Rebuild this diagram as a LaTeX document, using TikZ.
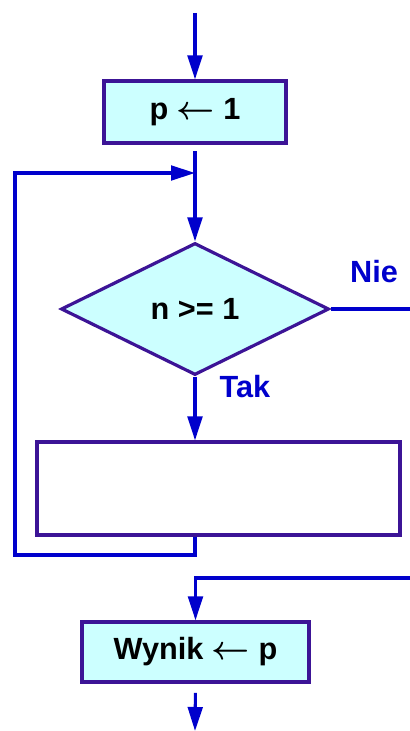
\documentclass[tikz,border=0pt]{standalone}
\usepackage{fontspec}
\setmainfont{Liberation Sans}
\usepackage{amsmath}
\usetikzlibrary{shapes.geometric,arrows.meta}

\definecolor{flowblue}{RGB}{0,0,204}
\definecolor{edgepurple}{RGB}{60,20,150}
\definecolor{boxfill}{RGB}{204,255,255}

\newcommand{\assign}{\ $\boldsymbol{\leftarrow}$\ }

\tikzset{
  block/.style={draw=edgepurple, line width=2.4pt, fill=boxfill, inner sep=0pt,
    font=\fontsize{23}{27}\selectfont\bfseries},
  decision/.style={block, diamond},
  flow/.style={draw=flowblue, line width=2.3pt},
  arr/.style={flow, -{Triangle[length=18pt,width=11pt]}},
  answer/.style={text=flowblue, font=\fontsize{23}{27}\selectfont\bfseries}
}

\begin{document}
\begin{tikzpicture}[x=0.75pt,y=-0.75pt]

  \useasboundingbox (0,0) rectangle (410,731);

  % --- Points ---
  \coordinate (start) at (195,13);
  \coordinate (join) at (195,173);
  \coordinate (loopbl) at (15,555);
  \coordinate (nieend) at (410,309);
  \coordinate (merge) at (410,578);
  \coordinate (stop) at (195,731);

  % --- Blocks ---
  \node[block, minimum width=136.5pt, minimum height=46.5pt] (init) at (195,112) {p\assign 1};
  \node[decision, minimum width=201pt, minimum height=99pt] (cond) at (195,309) {n >= 1};
  \node[block, fill=white, minimum width=272.25pt, minimum height=69.75pt] (body) at (218.5,488.5) {};
  \node[block, minimum width=170.25pt, minimum height=45pt] (result) at (195.5,652) {Wynik\assign p};

  % --- Labels ---
  \node[answer] (nie) at (374,272) {Nie};
  \node[answer] (tak) at (245,387) {Tak};

  % --- Main flow ---
  \draw[arr] (start) -- (init.north);
  \draw[arr, shorten <=5pt] (init.south) -- (cond.north);
  \draw[arr] (cond.south) -- (cond.south |- body.north);

  % --- Loop back ---
  \draw[arr] (cond.south |- body.south) |- (loopbl) |- (join);

  % --- Exit ---
  \draw[flow] (cond.east) -- (nieend);
  \draw[arr] (merge) -| (result.north);
  \draw[arr, shorten <=7pt] (result.south) -- (stop);

\end{tikzpicture}
\end{document}
